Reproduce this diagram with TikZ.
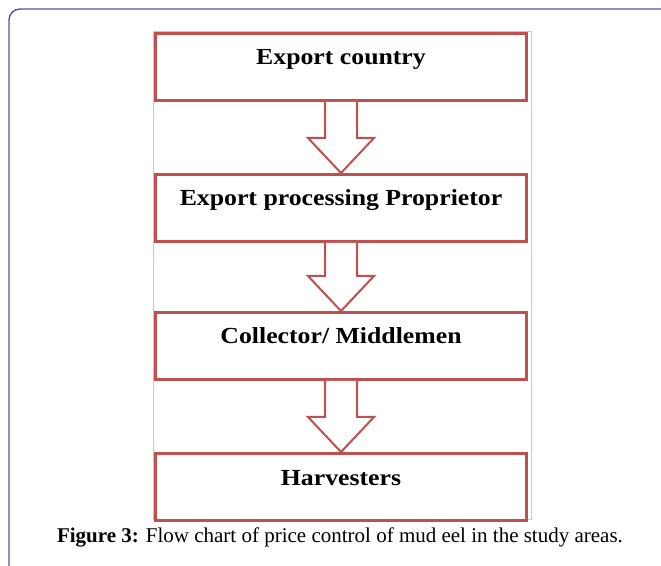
\documentclass[tikz,border=0pt]{standalone}
\usepackage{fontspec}
\setmainfont{Liberation Serif}
\newfontfamily\boxfont[FakeStretch=1.12]{Liberation Serif}
\definecolor{boxred}{RGB}{192,80,77}
\definecolor{framepurple}{RGB}{88,80,152}
\definecolor{imggray}{RGB}{200,200,200}
\usetikzlibrary{positioning,calc}

\begin{document}
\begin{tikzpicture}[x=1pt,y=1pt,
    stagebox/.style={draw=boxred,line width=3pt,fill=white,
      minimum width=371pt,minimum height=67pt,inner sep=0pt,
      text height=17pt,text depth=21pt,
      font=\boxfont\bfseries\fontsize{23}{26}\selectfont},
    flowarrow/.style={draw=boxred,line width=2pt,fill=white,line join=miter}]
  \useasboundingbox (0,0) rectangle (661,565);
  %% page frame and picture border
  \draw[framepurple,line width=1.4pt,rounded corners=11pt] (9,-5) -- (9,556) -- (670,556);
  \draw[imggray,line width=0.8pt] (153,46) rectangle (531,534);
  %% stages
  \node[stagebox] (export) at (341,498) {Export country};
  \node[stagebox,below=71pt of export] (proc) {Export processing Proprietor};
  \node[stagebox,below=68pt of proc] (coll) {Collector/ Middlemen};
  \node[stagebox,below=71pt of coll] (harv) {Harvesters};
  %% block arrows
  \foreach \a/\b in {export/proc,proc/coll,coll/harv}
    \draw[flowarrow] ($(\a.south)+(-16,0)$) -- ($(\b.north)+(-16,35)$)
      -- ($(\b.north)+(-33,35)$) -- (\b.north) -- ($(\b.north)+(33,35)$)
      -- ($(\b.north)+(16,35)$) -- ($(\a.south)+(16,0)$);
  %% caption
  \node[font=\fontsize{21}{24}\selectfont] (caption) at (340,28)
    {\textbf{Figure 3:} Flow chart of price control of mud eel in the study areas.};
\end{tikzpicture}
\end{document}
